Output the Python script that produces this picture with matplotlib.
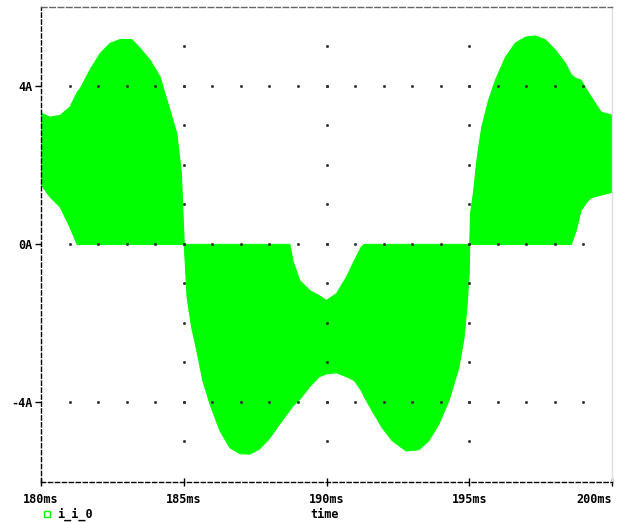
import numpy as np
import matplotlib.pyplot as plt
from matplotlib.lines import Line2D

# envelope of the switching current i_i_0 (ms, A)
t_ms = [180.0, 180.3, 180.66, 181.0, 181.25, 181.36, 181.7, 182.06, 182.4, 182.76,
        183.16, 183.45, 183.8, 184.15, 184.5, 184.74, 184.9, 185.0,
        185.1, 185.26, 185.44, 185.65, 185.9, 186.25, 186.6, 186.94, 187.3, 187.64,
        188.0, 188.34, 188.7, 188.8, 189.04, 189.4, 189.73, 189.98, 190.33, 190.68,
        190.96, 191.2, 191.3, 191.58, 191.93, 192.28, 192.77, 193.22, 193.57, 193.92,
        194.27, 194.62, 194.8, 194.9, 194.98, 195.0,
        195.03, 195.14, 195.25, 195.42, 195.66, 195.9, 196.26, 196.6, 196.96, 197.3,
        197.65, 198.0, 198.35, 198.56, 198.73, 198.9, 199.15, 199.26, 199.6, 200.0]
i_upper = [3.32, 3.22, 3.27, 3.48, 3.85, 3.95, 4.42, 4.84, 5.09, 5.19,
           5.19, 4.97, 4.67, 4.25, 3.40, 2.81, 1.8, 0.0,
           0.0, 0.0, 0.0, 0.0, 0.0, 0.0, 0.0, 0.0, 0.0, 0.0,
           0.0, 0.0, 0.0, -0.4, -0.91, -1.17, -1.3, -1.42, -1.25, -0.83,
           -0.41, -0.07, 0.0, 0.0, 0.0, 0.0, 0.0, 0.0, 0.0, 0.0,
           0.0, 0.0, 0.0, 0.0, 0.0, 0.0,
           0.79, 1.37, 2.13, 2.97, 3.65, 4.16, 4.75, 5.1, 5.25, 5.28,
           5.18, 4.92, 4.59, 4.29, 4.2, 4.16, 3.85, 3.73, 3.35, 3.27]
i_lower = [1.5, 1.2, 0.94, 0.43, 0.0, 0.0, 0.0, 0.0, 0.0, 0.0,
           0.0, 0.0, 0.0, 0.0, 0.0, 0.0, 0.0, 0.0,
           -1.34, -2.1, -2.69, -3.45, -4.04, -4.72, -5.15, -5.3, -5.31, -5.18,
           -4.9, -4.55, -4.2, -4.1, -3.93, -3.6, -3.35, -3.28, -3.25, -3.35,
           -3.45, -3.7, -3.85, -4.21, -4.64, -4.97, -5.23, -5.2, -4.97, -4.55,
           -3.96, -3.12, -2.36, -1.6, -0.74, 0.0,
           0.0, 0.0, 0.0, 0.0, 0.0, 0.0, 0.0, 0.0, 0.0, 0.0,
           0.0, 0.0, 0.0, 0.0, 0.36, 0.86, 1.12, 1.18, 1.25, 1.32]

x_ticks = [180, 185, 190, 195, 200]
x_labels = ['180ms', '185ms', '190ms', '195ms', '200ms']
y_ticks = [4, 0, -4]
y_labels = ['4A', '0A', '-4A']
trace_name = 'i_i_0'
x_title = 'time'

green = '#00ff00'
mono = {'family': 'DejaVu Sans Mono', 'weight': 'bold', 'size': 8.5}

fig = plt.figure(figsize=(6.19, 5.23), dpi=100)
ax = fig.add_axes([41/619, 1-482/523, (612-41)/619, (482-7)/523])

ax.fill_between(t_ms, i_lower, i_upper, color=green, linewidth=0.8, edgecolor=green)

# dotted grid like the probe window: dots on major lines at minor spacing
for y in y_ticks:
    xs = np.arange(181, 200)
    ax.plot(xs, [y]*len(xs), ls='none', marker='s', ms=1.0, color='#333333', zorder=3)
for x in x_ticks[1:-1]:
    ys = np.arange(-5, 6)
    ax.plot([x]*len(ys), ys, ls='none', marker='s', ms=1.0, color='#333333', zorder=3)

ax.set_xlim(180, 200)
ax.set_ylim(-6.03, 6.0)

ax.spines['left'].set_linestyle((0, (3, 2)))
ax.spines['bottom'].set_linestyle((0, (3, 2)))
ax.spines['top'].set_linestyle((0, (4, 2)))
ax.spines['top'].set_color('#666666')
ax.spines['right'].set_color('#dddddd')
for s in ax.spines.values():
    s.set_linewidth(1.0)

ax.set_xticks(x_ticks)
ax.set_xticklabels(x_labels, fontdict=mono)
ax.get_xticklabels()[-1].set_ha('right')
ax.set_yticks(y_ticks)
ax.set_yticklabels(y_labels, fontdict=mono)
ax.tick_params(axis='x', direction='inout', length=6, width=1, pad=5)
ax.tick_params(axis='y', direction='out', length=4, width=1, pad=2)

# legend and axis title below the plot
fig.add_artist(Line2D([47/619], [1-514/523], marker='s', ms=5, mfc='none',
                      mec=green, mew=1, transform=fig.transFigure))
fig.text(57/619, 1-514/523, trace_name, fontdict=mono, va='center', ha='left')
fig.text(310/619, 1-515/523, x_title, fontdict=mono, va='center', ha='left')

plt.savefig('out.png', dpi=100)
